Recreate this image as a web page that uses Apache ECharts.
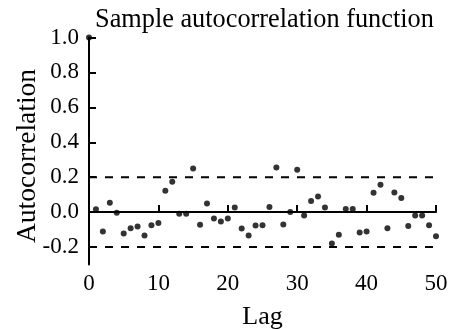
<!DOCTYPE html>
<html>
<head>
<meta charset="utf-8">
<script src="https://cdn.jsdelivr.net/npm/echarts@6/dist/echarts.min.js"></script>
<style>
  html, body { margin: 0; padding: 0; background: #fff; }
  #chart { width: 450px; height: 329px; }
</style>
</head>
<body>
<div id="chart"></div>
<script>
// Sample autocorrelation, lags 0..50
const lags = [];
for (let k = 0; k <= 50; k++) lags.push(k);
const acf = [
  1.0,
  0.016, -0.111, 0.054, -0.003, -0.123, -0.093, -0.083, -0.134, -0.075, -0.062,
  0.123, 0.174, -0.009, -0.009, 0.250, -0.073, 0.050, -0.037, -0.054, -0.037,
  0.026, -0.094, -0.134, -0.077, -0.075, 0.030, 0.256, -0.071, 0.001, 0.243,
  -0.020, 0.064, 0.089, 0.026, -0.180, -0.129, 0.018, 0.018, -0.117, -0.111,
  0.111, 0.157, -0.093, 0.113, 0.081, -0.079, -0.020, -0.020, -0.075, -0.138
];
// Approximate 95% confidence bounds
const bound = 0.2;
const yTicks = [-0.2, 0.0, 0.2, 0.4, 0.6, 0.8, 1.0];
const xTicks = [0, 10, 20, 30, 40, 50];

const serif = 'Liberation Serif';
const chart = echarts.init(document.getElementById('chart'), null, { renderer: 'canvas' });

const axisLineStyle = { color: '#000', width: 2 };

chart.setOption({
  animation: false,
  backgroundColor: '#fff',
  title: {
    text: 'Sample autocorrelation function',
    left: 90, top: 2,
    textStyle: { fontFamily: serif, fontSize: 26.3, fontWeight: 'normal', color: '#000' }
  },
  grid: { left: 89, right: 14, top: 37.5, bottom: 64.5, outerBoundsMode: 'none', containLabel: false },
  xAxis: {
    type: 'value', min: xTicks[0], max: xTicks[xTicks.length - 1], interval: 10,
    name: 'Lag', nameLocation: 'middle', nameGap: 40,
    nameTextStyle: { fontFamily: serif, fontSize: 26, color: '#000' },
    axisLine: { lineStyle: axisLineStyle },
    axisTick: { inside: true, length: 7, lineStyle: axisLineStyle },
    axisLabel: { margin: 8, fontFamily: serif, fontSize: 23, color: '#000' },
    splitLine: { show: false }
  },
  yAxis: {
    type: 'value', min: -0.3, max: 1.0,
    name: 'Autocorrelation', nameLocation: 'middle', nameGap: 47, nameMoveOverlap: false,
    nameTextStyle: { fontFamily: serif, fontSize: 27.5, color: '#000', padding: [0, 10, 0, 0] },
    axisLine: { show: true, lineStyle: axisLineStyle },
    axisTick: { show: true, inside: true, length: 7, lineStyle: axisLineStyle, customValues: yTicks },
    axisLabel: {
      margin: 10, fontFamily: serif, fontSize: 23, color: '#000',
      customValues: yTicks,
      formatter: v => v.toFixed(1)
    },
    splitLine: { show: false }
  },
  series: [
    {
      type: 'line', symbol: 'none', silent: true,
      data: [[0, bound], [50, bound]],
      lineStyle: { color: '#000', width: 2, type: [8, 8] }
    },
    {
      type: 'line', symbol: 'none', silent: true,
      data: [[0, -bound], [50, -bound]],
      lineStyle: { color: '#000', width: 2, type: [8, 8] }
    },
    {
      type: 'line', symbol: 'none', silent: true,
      data: [[0, 0], [50, 0]],
      lineStyle: { color: '#000', width: 1.5 }
    },
    {
      type: 'scatter', symbol: 'circle', symbolSize: 6,
      data: lags.map((k, i) => [k, acf[i]]),
      itemStyle: { color: '#000' }
    }
  ]
});
</script>
</body>
</html>
